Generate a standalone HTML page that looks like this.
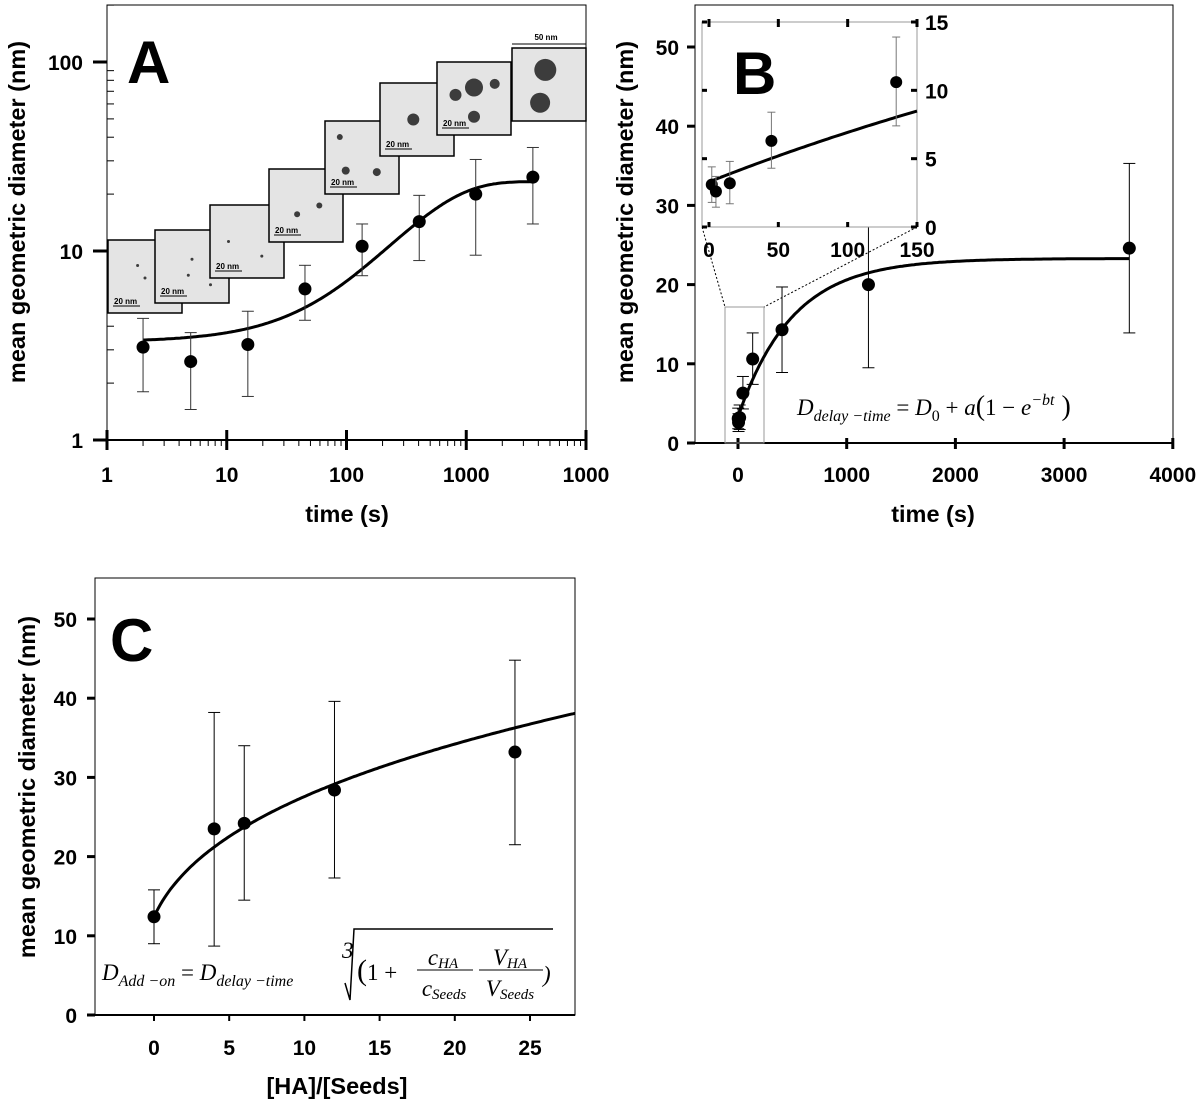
<!DOCTYPE html>
<html><head><meta charset="utf-8">
<style>
html,body{margin:0;padding:0;background:#fff;}
svg{display:block;font-family:"Liberation Sans",Arial,sans-serif;}
.tl{font-weight:bold;font-size:21px;fill:#000;}
.tt{font-weight:bold;font-size:23.5px;fill:#000;}
.big{font-weight:bold;font-size:60px;fill:#000;}
.eq{font-family:"Liberation Serif",serif;font-style:italic;font-size:23px;fill:#000;}
.sb{font-size:8px;font-weight:bold;fill:#000;}
</style></head>
<body>
<svg id="fig" width="1200" height="1118" viewBox="0 0 1200 1118"></svg>
<script>
// ---- Data (panels A & B share the delay-time series) ----
const timeSec = [2, 5, 15, 45, 135, 405, 1200, 3600];
const diamNm  = [3.1, 2.6, 3.2, 6.3, 10.6, 14.3, 20.0, 24.6];
const errHigh = [4.4, 3.7, 4.8, 8.4, 13.9, 19.7, 30.5, 35.3];
const errLow  = [1.8, 1.45, 1.7, 4.3, 7.4, 8.9, 9.5, 13.9];
const fitD0 = 3.3, fitA = 20, fitB = 0.002;
// Panel A tick labels
const aXTicks = [1, 10, 100, 1000, 10000];
const aXLabels = ["1", "10", "100", "1000", "1000"];
const aYTicks = [1, 10, 100];
// Panel B ticks
const bXTicks = [0, 1000, 2000, 3000, 4000];
const bYTicks = [0, 10, 20, 30, 40, 50];
const insetXTicks = [0, 50, 100, 150];
const insetYTicks = [0, 5, 10, 15];
// Panel C data
const ratioHA = [0, 4, 6, 12, 24];
const diamC   = [12.4, 23.5, 24.2, 28.4, 33.2];
const errHighC = [15.8, 38.2, 34.0, 39.6, 44.8];
const errLowC  = [9.0, 8.7, 14.5, 17.3, 21.5];
const fitC0 = 12.4, fitCk = 1.0;
const cXTicks = [0, 5, 10, 15, 20, 25];
const cYTicks = [0, 10, 20, 30, 40, 50];

const NS = "http://www.w3.org/2000/svg";
const svg = document.getElementById("fig");
function mk(tag, attrs, parent, name, inter) {
  const e = document.createElementNS(NS, tag);
  for (const k in attrs) e.setAttribute(k, attrs[k]);
  
  
  (parent || svg).appendChild(e);
  return e;
}
function txt(x, y, s, cls, anchor, name, parent) {
  const t = mk("text", {x: x, y: y, class: cls, "text-anchor": anchor || "middle"}, parent, name, false);
  t.textContent = s;
  return t;
}
function fitDelay(t) { return fitD0 + fitA * (1 - Math.exp(-fitB * t)); }

// ================= Panel A =================
const A = {l:107, r:586, t:5, b:440};
const ax = v => A.l + (Math.log10(v) - 0) * (A.r - A.l) / 4;
const ay = v => A.b - Math.log10(v) * 189;
const gA = mk("g", {}, svg, "panel-a", false);
mk("rect", {x:A.l, y:A.t, width:A.r-A.l, height:A.b-A.t, fill:"none", stroke:"#000", "stroke-width":1}, gA, "panel-a-frame", false);
for (let d = 0; d < 3; d++) {
  for (let m = 1; m <= 9; m++) {
    const v = Math.pow(10, d) * m; const y = ay(v);
    if (y < A.t) continue;
    mk("line", {x1:A.l-(m===1?14:0), y1:y, x2:A.l+(m===1?0:7), y2:y, stroke:"#000", "stroke-width":m===1?3:1}, gA, "a-y-tick", false);
  }
}
aYTicks.forEach(v => txt(A.l - 24, ay(v) + 8, String(v), "tl", "end", "a-y-tick-label", gA));
for (let d = 0; d < 4; d++) {
  for (let m = 1; m <= 9; m++) {
    const v = Math.pow(10, d) * m; const x = ax(v);
    mk("line", {x1:x, y1:A.b-(m===1?10:0), x2:x, y2:A.b+(m===1?10:6), stroke:"#000", "stroke-width":m===1?3:1}, gA, "a-x-tick", false);
  }
}
mk("line", {x1:A.r, y1:A.b-10, x2:A.r, y2:A.b+10, stroke:"#000", "stroke-width":3}, gA, "a-x-tick", false);
mk("line", {x1:A.l, y1:A.b, x2:A.r, y2:A.b, stroke:"#000", "stroke-width":2}, gA, "a-x-axis", false);
aXTicks.forEach((v, i) => txt(ax(v), 482, aXLabels[i], "tl", "middle", "a-x-tick-label", gA));
txt(347, 522, "time (s)", "tt", "middle", "a-x-axis-title", gA);
const aYT = txt(0, 0, "mean geometric diameter (nm)", "tt", "middle", "a-y-axis-title", gA);
aYT.setAttribute("transform", "translate(25,212) rotate(-90)");
// TEM images
const imgs = [[108,240],[155,230],[210,205],[269,169],[325,121],[380,83],[437,62],[512,48]];
const parts = [
  [[0.4,0.35,1.5],[0.5,0.52,1.5]],
  [[0.5,0.4,1.5],[0.45,0.62,1.5],[0.75,0.75,1.5]],
  [[0.25,0.5,1.5],[0.7,0.7,1.5]],
  [[0.38,0.62,3],[0.68,0.5,3]],
  [[0.2,0.22,3],[0.28,0.68,4],[0.7,0.7,4]],
  [[0.45,0.5,6]],
  [[0.25,0.45,6],[0.5,0.35,9],[0.78,0.3,5],[0.5,0.75,6]],
  [[0.45,0.3,11],[0.38,0.75,10]]
];
imgs.forEach((p, i) => {
  const g = mk("g", {}, gA, "tem-image-" + (i+1), false);
  mk("rect", {x:p[0], y:p[1], width:74, height:73, fill:"#e4e4e4", stroke:"#000", "stroke-width":1.5}, g, "tem-image-frame", false);
  parts[i].forEach(q => mk("circle", {cx:p[0]+q[0]*74, cy:p[1]+q[1]*73, r:q[2], fill:"#111", opacity:0.8}, g, "nanoparticle", false));
  if (i < 7) {
    mk("line", {x1:p[0]+5, y1:p[1]+66, x2:p[0]+32, y2:p[1]+66, stroke:"#000", "stroke-width":1}, g, "scale-bar", false);
    txt(p[0]+6, p[1]+64, "20 nm", "sb", "start", "scale-bar-label", g);
  }
});
mk("line", {x1:512, y1:44, x2:586, y2:44, stroke:"#000", "stroke-width":1}, gA, "scale-bar", false);
txt(546, 40, "50 nm", "sb", "middle", "scale-bar-label", gA);
txt(127, 83, "A", "big", "start", "panel-a-label", gA);
let dA = "";
for (let i = 0; i <= 200; i++) {
  const lt = Math.log10(2) + i * (Math.log10(3600) - Math.log10(2)) / 200;
  const t = Math.pow(10, lt);
  dA += (i ? "L" : "M") + ax(t).toFixed(1) + "," + ay(fitDelay(t)).toFixed(1);
}
mk("path", {d:dA, fill:"none", stroke:"#000", "stroke-width":3}, gA, "a-fit-curve", false);
timeSec.forEach((t, i) => {
  const x = ax(t);
  mk("line", {x1:x, y1:ay(errHigh[i]), x2:x, y2:ay(errLow[i]), stroke:"#333", "stroke-width":1}, gA, "a-error-bar", false);
  mk("line", {x1:x-6, y1:ay(errHigh[i]), x2:x+6, y2:ay(errHigh[i]), stroke:"#333", "stroke-width":1}, gA, "a-error-cap", false);
  mk("line", {x1:x-6, y1:ay(errLow[i]), x2:x+6, y2:ay(errLow[i]), stroke:"#333", "stroke-width":1}, gA, "a-error-cap", false);
  mk("circle", {cx:x, cy:ay(diamNm[i]), r:6.5, fill:"#000"}, gA, "a-point", false);
});

// ================= Panel B =================
const B = {l:695, r:1173, t:5, b:443};
const bx = v => 738 + v * 0.1087;
const by = v => B.b - v * 7.92;
const gB = mk("g", {}, svg, "panel-b", false);
mk("rect", {x:B.l, y:B.t, width:B.r-B.l, height:B.b-B.t, fill:"none", stroke:"#000", "stroke-width":1}, gB, "panel-b-frame", false);
mk("line", {x1:B.l, y1:B.b, x2:B.r, y2:B.b, stroke:"#000", "stroke-width":2}, gB, "b-x-axis", false);
bYTicks.forEach(v => {
  mk("line", {x1:B.l-8, y1:by(v), x2:B.l, y2:by(v), stroke:"#000", "stroke-width":3}, gB, "b-y-tick", false);
  txt(B.l - 16, by(v) + 8, String(v), "tl", "end", "b-y-tick-label", gB);
});
bXTicks.forEach(v => {
  mk("line", {x1:bx(v), y1:B.b-5, x2:bx(v), y2:B.b+6, stroke:"#000", "stroke-width":3}, gB, "b-x-tick", false);
  txt(bx(v), 482, String(v), "tl", "middle", "b-x-tick-label", gB);
});
txt(933, 522, "time (s)", "tt", "middle", "b-x-axis-title", gB);
const bYT = txt(0, 0, "mean geometric diameter (nm)", "tt", "middle", "b-y-axis-title", gB);
bYT.setAttribute("transform", "translate(633,212) rotate(-90)");
mk("rect", {x:725, y:307, width:39, height:136, fill:"none", stroke:"#999", "stroke-width":1}, gB, "zoom-box", false);
mk("line", {x1:702, y1:227, x2:725, y2:307, stroke:"#000", "stroke-width":1, "stroke-dasharray":"2,2"}, gB, "zoom-connector", false);
mk("line", {x1:917, y1:227, x2:764, y2:307, stroke:"#000", "stroke-width":1, "stroke-dasharray":"2,2"}, gB, "zoom-connector", false);
let dB = "";
for (let i = 0; i <= 200; i++) {
  const t = i * 3600 / 200;
  dB += (i ? "L" : "M") + bx(t).toFixed(1) + "," + by(fitDelay(t)).toFixed(1);
}
mk("path", {d:dB, fill:"none", stroke:"#000", "stroke-width":3}, gB, "b-fit-curve", false);
timeSec.forEach((t, i) => {
  const x = bx(t);
  mk("line", {x1:x, y1:by(errHigh[i]), x2:x, y2:by(errLow[i]), stroke:"#000", "stroke-width":1}, gB, "b-error-bar", false);
  mk("line", {x1:x-6, y1:by(errHigh[i]), x2:x+6, y2:by(errHigh[i]), stroke:"#000", "stroke-width":1}, gB, "b-error-cap", false);
  mk("line", {x1:x-6, y1:by(errLow[i]), x2:x+6, y2:by(errLow[i]), stroke:"#000", "stroke-width":1}, gB, "b-error-cap", false);
  mk("circle", {cx:x, cy:by(diamNm[i]), r:6.5, fill:"#000"}, gB, "b-point", false);
});
const I = {l:702, r:917, t:22, b:227};
const ix = v => 709 + v * (917 - 709) / 150;
const iy = v => I.b - v * (I.b - I.t) / 15;
const gI = mk("g", {}, gB, "b-inset", false);
mk("rect", {x:I.l, y:I.t, width:I.r-I.l, height:I.b-I.t, fill:"#fff", stroke:"#999", "stroke-width":1}, gI, "inset-frame", false);
insetXTicks.forEach(v => {
  mk("line", {x1:ix(v), y1:I.t-3, x2:ix(v), y2:I.t+5, stroke:"#000", "stroke-width":3}, gI, "inset-x-tick", false);
  mk("line", {x1:ix(v), y1:I.b-5, x2:ix(v), y2:I.b, stroke:"#000", "stroke-width":3}, gI, "inset-x-tick", false);
  txt(ix(v), 257, String(v), "tl", "middle", "inset-x-tick-label", gI);
});
insetYTicks.forEach(v => {
  mk("line", {x1:I.l, y1:iy(v), x2:I.l+5, y2:iy(v), stroke:"#000", "stroke-width":3}, gI, "inset-y-tick", false);
  mk("line", {x1:I.r-6, y1:iy(v), x2:I.r, y2:iy(v), stroke:"#000", "stroke-width":3}, gI, "inset-y-tick", false);
  txt(I.r + 8, iy(v) + 8, String(v), "tl", "start", "inset-y-tick-label", gI);
});
let dI = "";
for (let i = 0; i <= 60; i++) {
  const t = 2 + i * 148 / 60;
  dI += (i ? "L" : "M") + ix(t).toFixed(1) + "," + iy(fitDelay(t)).toFixed(1);
}
mk("path", {d:dI, fill:"none", stroke:"#000", "stroke-width":3}, gI, "inset-fit-curve", false);
timeSec.forEach((t, i) => {
  if (t > 150) return;
  const x = ix(t);
  const hi = Math.min(errHigh[i], 15);
  mk("line", {x1:x, y1:iy(hi), x2:x, y2:iy(errLow[i]), stroke:"#777", "stroke-width":1}, gI, "inset-error-bar", false);
  mk("line", {x1:x-4, y1:iy(hi), x2:x+4, y2:iy(hi), stroke:"#777", "stroke-width":1}, gI, "inset-error-cap", false);
  mk("line", {x1:x-4, y1:iy(errLow[i]), x2:x+4, y2:iy(errLow[i]), stroke:"#777", "stroke-width":1}, gI, "inset-error-cap", false);
  mk("circle", {cx:x, cy:iy(diamNm[i]), r:6, fill:"#000"}, gI, "inset-point", false);
});
txt(733, 94, "B", "big", "start", "panel-b-label", gB);
const eqB = mk("text", {x:797, y:415, class:"eq"}, gB, "b-equation", false);
eqB.innerHTML = 'D<tspan font-size="16" dy="6">delay −time</tspan><tspan dy="-6" font-style="normal">  =  </tspan>D<tspan font-size="16" dy="6" font-style="normal">0</tspan><tspan dy="-6" font-style="normal"> + </tspan>a<tspan font-style="normal" font-size="28">(</tspan><tspan font-style="normal">1 − </tspan>e<tspan font-size="16" dy="-10">−bt</tspan><tspan dy="10" font-style="normal" font-size="28"> )</tspan>';

// ================= Panel C =================
const C = {l:95, r:575, t:578, b:1015};
const cx = v => 154 + v * 15.04;
const cy = v => C.b - v * 7.92;
const gC = mk("g", {}, svg, "panel-c", false);
mk("rect", {x:C.l, y:C.t, width:C.r-C.l, height:C.b-C.t, fill:"none", stroke:"#000", "stroke-width":1}, gC, "panel-c-frame", false);
mk("line", {x1:C.l, y1:C.b, x2:C.r, y2:C.b, stroke:"#000", "stroke-width":2}, gC, "c-x-axis", false);
cYTicks.forEach(v => {
  mk("line", {x1:C.l-8, y1:cy(v), x2:C.l, y2:cy(v), stroke:"#000", "stroke-width":3}, gC, "c-y-tick", false);
  txt(C.l - 18, cy(v) + 8, String(v), "tl", "end", "c-y-tick-label", gC);
});
cXTicks.forEach(v => {
  mk("line", {x1:cx(v), y1:C.b, x2:cx(v), y2:C.b+6, stroke:"#000", "stroke-width":2}, gC, "c-x-tick", false);
  txt(cx(v), 1055, String(v), "tl", "middle", "c-x-tick-label", gC);
});
txt(337, 1094, "[HA]/[Seeds]", "tt", "middle", "c-x-axis-title", gC);
const cYT = txt(0, 0, "mean geometric diameter (nm)", "tt", "middle", "c-y-axis-title", gC);
cYT.setAttribute("transform", "translate(35,787) rotate(-90)");
let dC = "";
for (let i = 0; i <= 200; i++) {
  const r = i * 28 / 200;
  dC += (i ? "L" : "M") + cx(r).toFixed(1) + "," + cy(fitC0 * Math.cbrt(1 + fitCk * r)).toFixed(1);
}
mk("path", {d:dC, fill:"none", stroke:"#000", "stroke-width":3}, gC, "c-fit-curve", false);
ratioHA.forEach((r, i) => {
  const x = cx(r);
  mk("line", {x1:x, y1:cy(errHighC[i]), x2:x, y2:cy(errLowC[i]), stroke:"#000", "stroke-width":1}, gC, "c-error-bar", false);
  mk("line", {x1:x-6, y1:cy(errHighC[i]), x2:x+6, y2:cy(errHighC[i]), stroke:"#000", "stroke-width":1}, gC, "c-error-cap", false);
  mk("line", {x1:x-6, y1:cy(errLowC[i]), x2:x+6, y2:cy(errLowC[i]), stroke:"#000", "stroke-width":1}, gC, "c-error-cap", false);
  mk("circle", {cx:x, cy:cy(diamC[i]), r:6.5, fill:"#000"}, gC, "c-point", false);
});
txt(110, 661, "C", "big", "start", "panel-c-label", gC);
const eqC = mk("text", {x:102, y:980, class:"eq"}, gC, "c-equation-left", false);
eqC.innerHTML = 'D<tspan font-size="16" dy="6">Add −on</tspan><tspan dy="-6" font-style="normal">  =  </tspan>D<tspan font-size="16" dy="6">delay −time</tspan>';
const rootIdx = txt(342, 958, "3", "eq", "start", "c-root-index", gC);
rootIdx.setAttribute("font-size", "11");
rootIdx.setAttribute("font-style", "normal");
mk("path", {d:"M345,983 L350,1000 L354,929 L553,929", fill:"none", stroke:"#000", "stroke-width":1.5}, gC, "c-root-sign", false);
const eqC2 = mk("text", {x:357, y:980, class:"eq"}, gC, "c-equation-root", false);
eqC2.innerHTML = '<tspan font-style="normal" font-size="30">(</tspan><tspan font-style="normal">1 + </tspan>';
txt(443, 965, "c", "eq", "middle", "c-frac-num", gC).innerHTML = 'c<tspan font-size="15" dy="3">HA</tspan>';
mk("line", {x1:417, y1:970, x2:473, y2:970, stroke:"#000", "stroke-width":1}, gC, "c-frac-line", false);
txt(444, 996, "c", "eq", "middle", "c-frac-den", gC).innerHTML = 'c<tspan font-size="15" dy="3">Seeds</tspan>';
txt(510, 965, "V", "eq", "middle", "c-frac-num2", gC).innerHTML = 'V<tspan font-size="15" dy="3">HA</tspan>';
mk("line", {x1:479, y1:970, x2:543, y2:970, stroke:"#000", "stroke-width":1}, gC, "c-frac-line2", false);
txt(510, 996, "V", "eq", "middle", "c-frac-den2", gC).innerHTML = 'V<tspan font-size="15" dy="3">Seeds</tspan>';
const cp = txt(543, 982, ")", "eq", "start", "c-paren", gC);
cp.setAttribute("font-style", "normal");
cp.setAttribute("font-size", "30");
</script>
</body></html>
